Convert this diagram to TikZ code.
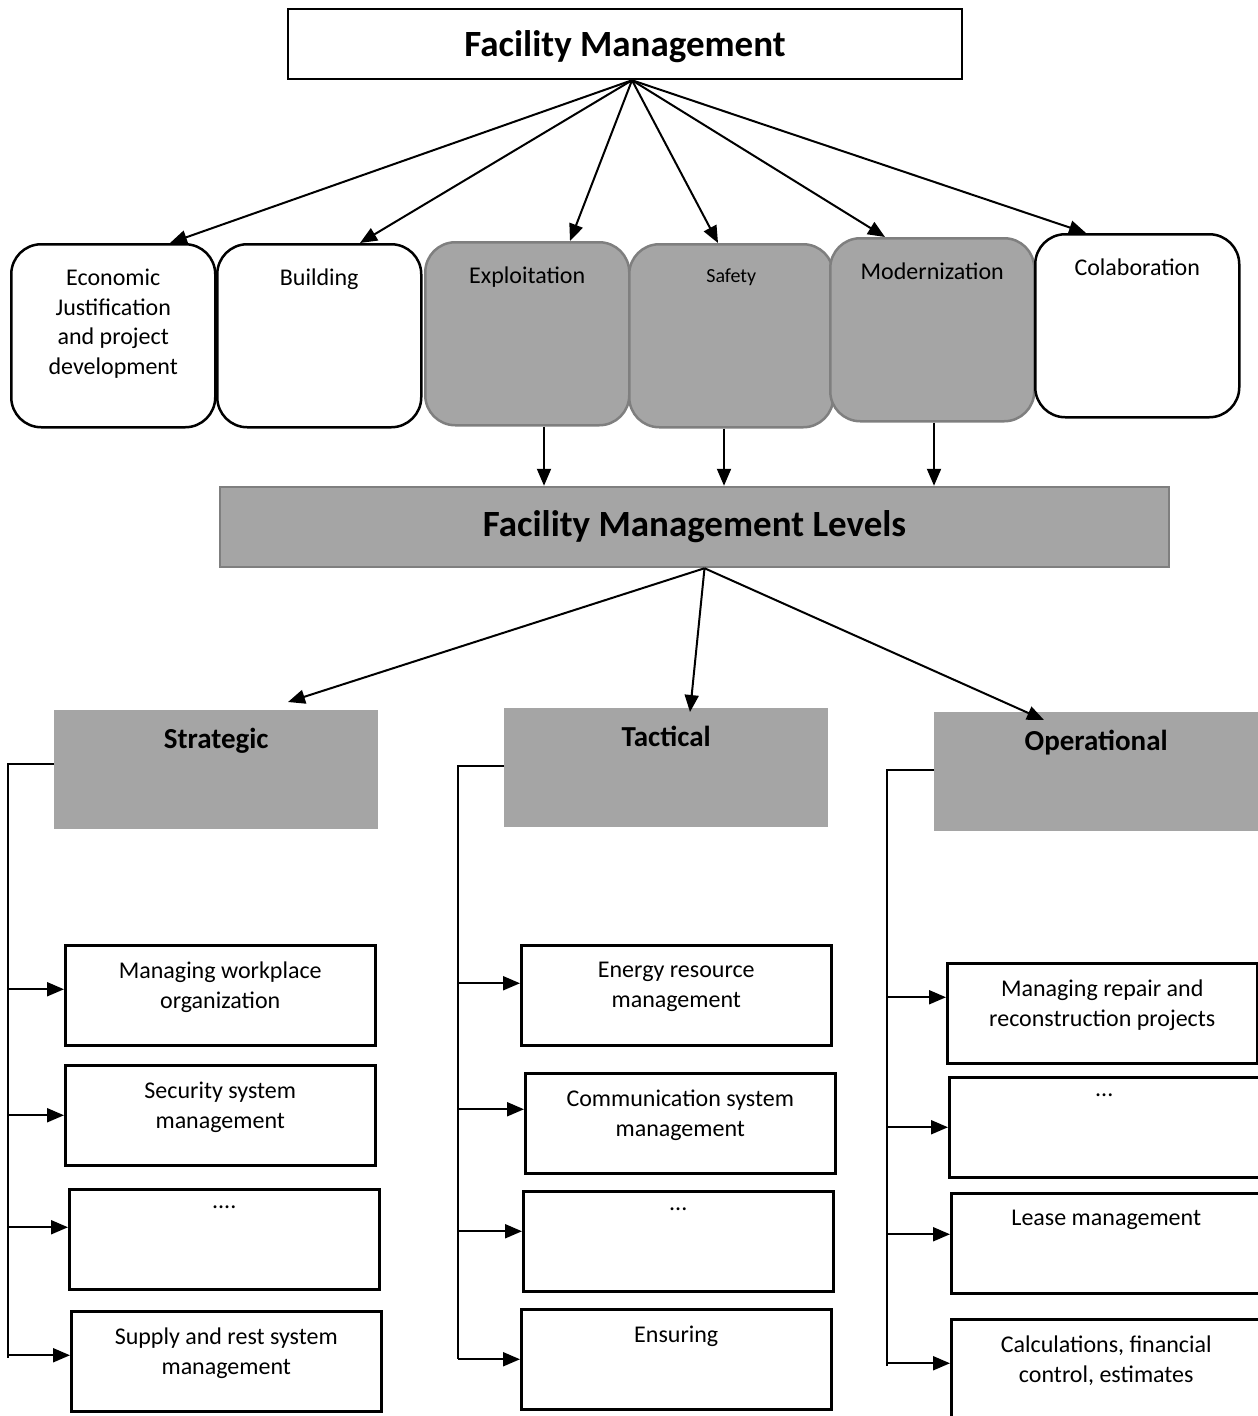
\documentclass[tikz,border=0pt]{standalone}
\usepackage{fontspec}
\setmainfont{Carlito}
\usetikzlibrary{arrows.meta}

\definecolor{fmfill}{RGB}{165,165,165}
\definecolor{fmline}{RGB}{127,127,127}

\tikzset{
  txt/.style={font=\fontsize{24}{29.5}\selectfont},
  headbox/.style={draw, line width=2.5pt, minimum width=674pt, minimum height=70pt,
    font=\bfseries\fontsize{37}{44}\selectfont},
  area/.style={draw, line width=2.5pt, rounded corners=30pt, minimum width=204pt,
    minimum height=183pt, anchor=north west},
  darkarea/.style={area, fill=fmfill, draw=fmline},
  toplabel/.style={anchor=north, align=center, inner sep=0pt, yshift=-26pt, txt},
  level/.style={fill=fmfill, minimum width=324pt, minimum height=119pt, anchor=north west},
  levellabel/.style={anchor=north, inner sep=0pt, yshift=-18pt,
    font=\bfseries\fontsize{29}{35}\selectfont},
  task/.style={draw, line width=2.5pt, minimum width=310pt, minimum height=100pt, anchor=north west},
  tasklabel/.style={anchor=north, align=center, inner sep=0pt, yshift=-18pt, txt},
  fmarrow/.style={line width=2pt, -{Triangle[length=17pt,width=14pt]}},
  bracket/.style={line width=1.2pt},
}

\begin{document}
\begin{tikzpicture}[x=1pt, y=-1pt]
  \useasboundingbox (0,0) rectangle (1258,1416);

  % top of the tree
  \node[headbox, text depth=1pt] (fm) at (625,44) {Facility Management};

  \node[area, label={[toplabel]north:Economic\\Justification\\and project\\development}] (econ) at (10,243) {};
  \node[area, label={[toplabel]north:Building}] (build) at (216,243) {};
  \node[darkarea, label={[toplabel]north:Exploitation}] (exploit) at (424,241) {};
  \node[darkarea, label={[toplabel, font=\fontsize{20}{24}\selectfont]north:Safety}] (safety) at (628,243) {};
  \node[darkarea, label={[toplabel]north:Modernization}] (modern) at (829,237) {};
  \node[area, label={[toplabel]north:Colaboration}] (colab) at (1034,233) {};

  \draw[fmarrow] ([xshift=7pt]fm.south) -- ([xshift=160pt]econ.north west);
  \draw[fmarrow] ([xshift=7pt]fm.south) -- ([xshift=144pt]build.north west);
  \draw[fmarrow] ([xshift=7pt]fm.south) -- ([xshift=146pt]exploit.north west);
  \draw[fmarrow] ([xshift=7pt]fm.south) -- ([xshift=90pt]safety.north west);
  \draw[fmarrow] ([xshift=7pt]fm.south) -- ([xshift=56pt]modern.north west);
  \draw[fmarrow] ([xshift=7pt]fm.south) -- ([xshift=52pt]colab.north west);

  % levels
  \node[headbox, fill=fmfill, draw=fmline, minimum width=949pt, minimum height=80pt] (fml) at (694.5,527) {Facility Management Levels};

  \draw[fmarrow] ([xshift=120pt]exploit.south west) -- ([xshift=120pt]exploit.south west |- fml.north);
  \draw[fmarrow] ([xshift=96pt]safety.south west) -- ([xshift=96pt]safety.south west |- fml.north);
  \draw[fmarrow] ([xshift=105pt]modern.south west) -- ([xshift=105pt]modern.south west |- fml.north);

  \node[level, label={[levellabel]north:Strategic}] (strat) at (54,710) {};
  \node[level, label={[levellabel]north:Tactical}] (tact) at (504,708) {};
  \node[level, label={[levellabel]north:Operational}] (oper) at (934,712) {};

  \draw[fmarrow] ([xshift=10pt]fml.south) -- ([xshift=234pt, yshift=8pt]strat.north west);
  \draw[fmarrow] ([xshift=10pt]fml.south) -- ([xshift=186pt, yshift=-4pt]tact.north west);
  \draw[fmarrow] ([xshift=10pt]fml.south) -- ([xshift=110pt, yshift=-8pt]oper.north west);

  % strategic tasks
  \node[task, label={[tasklabel]north:Managing workplace\\organization}] (st1) at (64,944) {};
  \node[task, label={[tasklabel]north:Security system\\management}] (st2) at (64,1064) {};
  \node[task, label={[tasklabel]north:....}] (st3) at (68,1188) {};
  \node[task, label={[tasklabel]north:Supply and rest system\\management}] (st4) at (70,1310) {};

  \draw[bracket] ([yshift=-54pt]strat.north west) -- ++(-46pt,0) coordinate (sbus) -- ([yshift=3pt]sbus |- st4.west);
  \draw[fmarrow] ([yshift=6pt]sbus |- st1.west) -- ([yshift=6pt]st1.west);
  \draw[fmarrow] (sbus |- st2.west) -- (st2.west);
  \draw[fmarrow] ([yshift=12pt]sbus |- st3.west) -- ([yshift=12pt]st3.west);
  \draw[fmarrow] ([yshift=6pt]sbus |- st4.west) -- ([yshift=6pt]st4.west);

  % tactical tasks
  \node[task, label={[tasklabel]north:Energy resource\\management}] (ta1) at (520,944) {};
  \node[task, label={[tasklabel]north:Communication system\\management}] (ta2) at (524,1072) {};
  \node[task, label={[tasklabel]north:...}] (ta3) at (522,1190) {};
  \node[task, label={[tasklabel]north:Ensuring}] (ta4) at (520,1308) {};

  \draw[bracket] ([yshift=-58pt]tact.north west) -- ++(-46pt,0) coordinate (tbus) -- (tbus |- ta4.west);
  \draw[fmarrow] ([yshift=12pt]tbus |- ta1.west) -- ([yshift=12pt]ta1.west);
  \draw[fmarrow] ([yshift=14pt]tbus |- ta2.west) -- ([yshift=14pt]ta2.west);
  \draw[fmarrow] ([yshift=10pt]tbus |- ta3.west) -- ([yshift=10pt]ta3.west);
  \draw[fmarrow] (tbus |- ta4.west) -- (ta4.west);

  % operational tasks
  \node[task, label={[tasklabel]north:Managing repair and\\reconstruction projects}] (op1) at (946,962) {};
  \node[task, label={[tasklabel]north:...}] (op2) at (948,1076) {};
  \node[task, label={[tasklabel]north:Lease management}] (op3) at (950,1192) {};
  \node[task, label={[tasklabel]north:Calculations, financial\\control, estimates}] (op4) at (950,1318) {};

  \draw[bracket] ([yshift=-58pt]oper.north west) -- ++(-47pt,0) coordinate (obus) -- ([yshift=3pt]obus |- op4.west);
  \draw[fmarrow] ([yshift=16pt]obus |- op1.west) -- ([yshift=16pt]op1.west);
  \draw[fmarrow] (obus |- op2.west) -- (op2.west);
  \draw[fmarrow] ([yshift=9pt]obus |- op3.west) -- ([yshift=9pt]op3.west);
  \draw[fmarrow] ([yshift=6pt]obus |- op4.west) -- ([yshift=6pt]op4.west);
\end{tikzpicture}
\end{document}
